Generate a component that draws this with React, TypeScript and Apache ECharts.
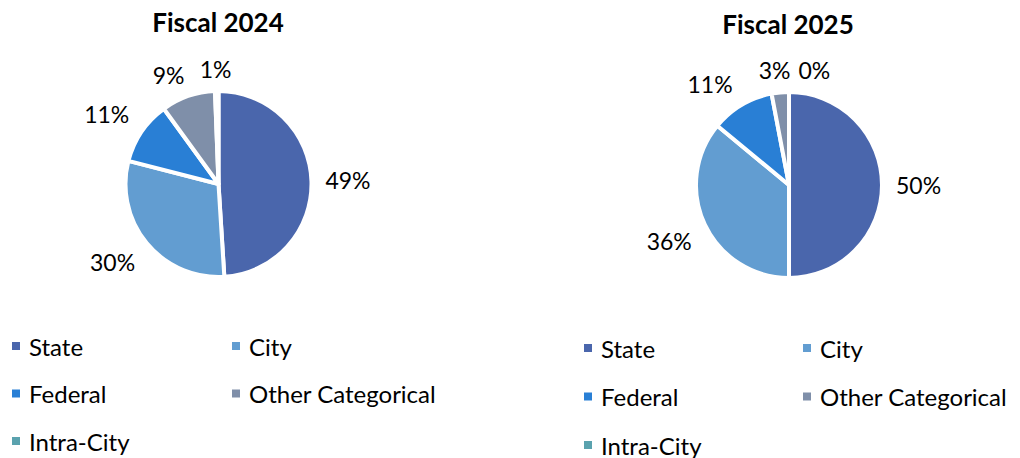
import React, { useEffect, useRef } from 'react';
import * as echarts from 'echarts';

const categories = ['State', 'City', 'Federal', 'Other Categorical', 'Intra-City'];
const fiscal2024 = [49, 30, 11, 9.4, 0.6];
const fiscal2025 = [50, 36, 11, 3, 0];
const titles = ['Fiscal 2024', 'Fiscal 2025'];
const colors = ['#4A66AC', '#629DD1', '#297FD5', '#7F8FA9', '#5AA2AE'];

const FONT = 'Lato, Carlito, Calibri, "Noto Sans", sans-serif';

const clamp1 = (v: number) => Math.max(-1, Math.min(1, v));

// Place each label just outside the pie, along its slice's mid-angle,
// using the guide-line points that ECharts computed for that slice.
const labelLayout = (params: any) => {
  const pts = params.labelLinePoints;
  if (!pts || pts.length < 2) return {};
  const p0 = pts[0];
  const p1 = pts[1];
  const vx = p1[0] - p0[0];
  const vy = p1[1] - p0[1];
  const len = Math.hypot(vx, vy) || 1;
  const dx = vx / len;
  const dy = vy / len;
  const w = params.labelRect.width;
  const h = params.labelRect.height;
  const gap = 10;
  return {
    x: p0[0] + dx * gap + (w / 2) * clamp1(dx * 2.5),
    y: p0[1] + dy * gap + (h / 2) * clamp1(dy * 2.5),
    align: 'center',
    verticalAlign: 'middle',
    moveOverlap: dy < -0.9 ? 'shiftX' : undefined,
  };
};

function pieSeries(values: number[], center: [number, number]) {
  return {
    type: 'pie',
    radius: 93,
    center,
    startAngle: 90,
    clockwise: true,
    avoidLabelOverlap: false,
    percentPrecision: 0,
    itemStyle: { borderColor: '#ffffff', borderWidth: 4 },
    label: {
      show: true,
      position: 'outside',
      formatter: '{d}%',
      fontFamily: FONT,
      fontSize: 23,
      lineHeight: 24,
      padding: [0, 4, 0, 4],
      color: '#000000',
    },
    labelLine: { show: true, length: 10, length2: 0, lineStyle: { opacity: 0 } },
    labelLayout,
    emphasis: { disabled: true },
    data: categories.map((name, i) => ({ name, value: values[i] })),
  };
}

export default function App() {
  const ref = useRef<HTMLDivElement>(null);
  useEffect(() => {
    if (!ref.current) return;
    const chart = echarts.init(ref.current, null, { renderer: 'svg' });
    const col1 = categories.filter((_, i) => i % 2 === 0);
    const col2 = categories.filter((_, i) => i % 2 === 1);
    const legendCommon = {
      orient: 'vertical',
      icon: 'rect',
      itemWidth: 10,
      itemHeight: 10,
      padding: 0,
      height: 200,
      selectedMode: false,
      textStyle: {
        fontFamily: FONT,
        fontSize: 24,
        lineHeight: 24,
        color: '#000000',
        padding: [0, 0, 0, 3],
      },
    };
    const titleStyle = { fontFamily: FONT, fontWeight: 'bold', fontSize: 26, color: '#000000' };
    chart.setOption({
      animation: false,
      color: colors,
      title: [
        { text: titles[0], left: 218, top: 9, textAlign: 'center', padding: 0, textStyle: titleStyle },
        { text: titles[1], left: 788, top: 11, textAlign: 'center', padding: 0, textStyle: titleStyle },
      ],
      legend: [
        { ...legendCommon, data: col1, left: 10, top: 334, itemGap: 23.5 },
        { ...legendCommon, data: col2, left: 230, top: 334, itemGap: 23.5 },
        { ...legendCommon, data: col1, left: 582, top: 336, itemGap: 24.5 },
        { ...legendCommon, data: col2, left: 801, top: 336, itemGap: 24.5 },
      ],
      series: [pieSeries(fiscal2024, [218.5, 184]), pieSeries(fiscal2025, [789, 185])],
    });
    return () => chart.dispose();
  }, []);
  return (
    <div
      ref={ref}
      style={{ position: 'absolute', left: 0, top: 0, width: 1020, height: 458, background: '#ffffff' }}
    />
  );
}
